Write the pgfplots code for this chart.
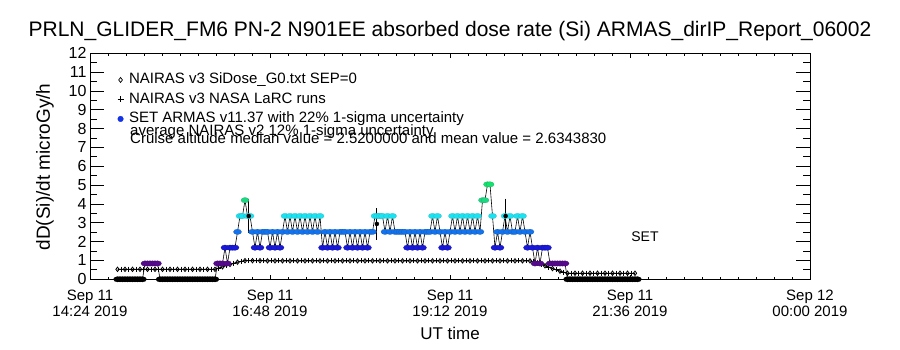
\documentclass[border=0pt]{standalone}
\usepackage{pgfplots}
\usepackage{pgfplotstable}
\pgfplotsset{compat=1.18}
\usepackage{fontspec}
\setmainfont{Liberation Sans}

\definecolor{legblue}{RGB}{20,50,230}
\pgfplotsset{colormap={armas}{rgb255=(0,0,0) rgb255=(85,10,140) rgb255=(25,25,215) rgb255=(20,115,235) rgb255=(30,225,240) rgb255=(30,215,130) rgb255=(20,225,110)}}

% wide elliptical blob mark, as drawn by the original plotting software
\pgfdeclareplotmark{hblob}{%
  \pgfpathellipse{\pgfpointorigin}{\pgfqpoint{1.5\pgfplotmarksize}{0pt}}{\pgfqpoint{0pt}{\pgfplotmarksize}}%
  \pgfusepathqfillstroke}

% ARMAS dose rate, t in minutes after 00:00 UT Sep 11
\pgfplotstableread[row sep=\\]{
t v\\
886 0\\888 0\\890 0\\892 0\\894 0\\896 0\\898 0\\900 0\\902 0\\904 0\\906 0\\
908 0.84\\910 0.84\\912 0.84\\914 0.84\\916 0.84\\918 0.84\\
920 0\\922 0\\924 0\\926 0\\928 0\\930 0\\932 0\\934 0\\936 0\\938 0\\940 0\\942 0\\944 0\\946 0\\948 0\\950 0\\952 0\\954 0\\956 0\\958 0\\960 0\\962 0\\964 0\\
966 0.84\\968 0.84\\970 0.84\\
972 1.68\\974 0.84\\976 1.68\\978 1.68\\980 1.68\\
982 2.52\\984 3.36\\986 3.36\\988 4.2\\990 3.36\\992 3.36\\
994 2.52\\996 1.68\\998 2.52\\1000 1.68\\1002 2.52\\1004 2.52\\1006 2.52\\
1008 1.68\\1010 2.52\\1012 1.68\\1014 2.52\\1016 1.68\\1018 2.52\\
1020 3.36\\1022 2.52\\1024 3.36\\1026 2.52\\1028 3.36\\1030 2.52\\1032 3.36\\1034 2.52\\1036 3.36\\1038 2.52\\1040 3.36\\1042 2.52\\1044 3.36\\1046 2.52\\1048 3.36\\
1050 1.68\\1052 2.52\\1054 1.68\\1056 2.52\\1058 1.68\\1060 2.52\\1062 1.68\\1064 2.52\\
1066 2.52\\1068 2.52\\1070 1.68\\1072 2.52\\
1074 1.68\\1076 2.52\\1078 1.68\\1080 2.52\\1082 1.68\\1084 2.52\\1086 1.68\\1088 2.52\\
1090 2.52\\1092 3.36\\1094 3.36\\1096 3.36\\1098 3.36\\1100 2.52\\1102 3.36\\1104 2.52\\1106 3.36\\1108 2.52\\
1110 2.52\\1112 2.52\\1114 2.52\\1116 2.52\\
1118 1.68\\1120 2.52\\1122 1.68\\1124 2.52\\1126 1.68\\1128 2.52\\1130 1.68\\1132 2.52\\
1134 2.52\\1136 2.52\\
1138 3.36\\1140 2.52\\1142 3.36\\
1144 2.52\\1146 1.68\\1148 2.52\\1150 1.68\\1152 2.52\\
1154 3.36\\1156 2.52\\1158 3.36\\1160 2.52\\1162 3.36\\1164 2.52\\1166 3.36\\1168 2.52\\1170 3.36\\
1172 2.52\\1174 3.36\\1176 2.52\\1178 4.2\\1180 4.2\\1182 5.04\\1184 5.04\\1186 3.36\\
1188 1.68\\1190 2.52\\1192 1.68\\
1194 2.52\\1196 3.36\\1198 2.52\\1200 3.36\\1202 2.52\\1204 2.52\\1206 3.36\\1208 2.52\\1210 3.36\\1212 2.52\\
1214 1.68\\1216 2.52\\
1218 1.68\\1220 0.84\\1222 1.68\\1224 0.84\\1226 1.68\\1228 1.68\\1230 1.68\\
1232 0.84\\1234 0.84\\1236 0.84\\1238 0.84\\1240 0.84\\1242 0.84\\1244 0.84\\
1246 0\\1248 0\\1250 0\\1252 0\\1254 0\\1256 0\\1258 0\\1260 0\\1262 0\\1264 0\\1266 0\\1268 0\\1270 0\\1272 0\\1274 0\\1276 0\\1278 0\\1280 0\\1282 0\\1284 0\\1286 0\\1288 0\\1290 0\\1292 0\\1294 0\\1296 0\\1298 0\\1300 0\\1302 0\\
}\armas

% NAIRAS v3 SiDose_G0 (diamonds)
\pgfplotstableread[row sep=\\]{
t v\\
886 0.53\\892 0.53\\898 0.53\\904 0.53\\910 0.53\\916 0.53\\922 0.53\\928 0.53\\934 0.53\\940 0.53\\946 0.53\\952 0.53\\958 0.53\\964 0.53\\
970 0.66\\976 0.79\\982 0.91\\988 0.99\\994 0.99\\1000 0.99\\
1006 0.98\\1012 0.98\\1018 0.98\\1024 0.98\\1030 0.98\\1036 0.98\\1042 0.98\\1048 0.98\\1054 0.98\\1060 0.98\\1066 0.98\\1072 0.98\\1078 0.98\\1084 0.98\\1090 0.98\\1096 0.98\\1102 0.98\\1108 0.98\\1114 0.98\\1120 0.98\\1126 0.98\\1132 0.98\\1138 0.98\\1144 0.98\\1150 0.98\\1156 0.98\\1162 0.98\\1168 0.98\\1174 0.98\\1180 0.98\\1186 0.98\\1192 0.98\\1198 0.98\\1204 0.98\\1210 0.98\\1216 0.98\\
1222 0.87\\1228 0.72\\1234 0.57\\1240 0.43\\1246 0.32\\
1252 0.32\\1258 0.32\\1264 0.32\\1270 0.32\\1276 0.32\\1282 0.32\\1288 0.32\\1294 0.32\\1300 0.32\\
}\sidose

% NAIRAS v3 NASA LaRC runs (plus)
\pgfplotstableread[row sep=\\]{
t v\\
889 0.53\\895 0.53\\901 0.53\\907 0.53\\913 0.53\\919 0.53\\925 0.53\\931 0.53\\937 0.53\\943 0.53\\949 0.53\\955 0.53\\961 0.53\\
967 0.59\\973 0.72\\979 0.85\\985 0.96\\991 0.99\\997 0.99\\
1003 0.98\\1009 0.98\\1015 0.98\\1021 0.98\\1027 0.98\\1033 0.98\\1039 0.98\\1045 0.98\\1051 0.98\\1057 0.98\\1063 0.98\\1069 0.98\\1075 0.98\\1081 0.98\\1087 0.98\\1093 0.98\\1099 0.98\\1105 0.98\\1111 0.98\\1117 0.98\\1123 0.98\\1129 0.98\\1135 0.98\\1141 0.98\\1147 0.98\\1153 0.98\\1159 0.98\\1165 0.98\\1171 0.98\\1177 0.98\\1183 0.98\\1189 0.98\\1195 0.98\\1201 0.98\\1207 0.98\\1213 0.98\\
1219 0.94\\1225 0.79\\1231 0.65\\1237 0.50\\1243 0.37\\
1249 0.32\\1255 0.32\\1261 0.32\\1267 0.32\\1273 0.32\\1279 0.32\\1285 0.32\\1291 0.32\\1297 0.32\\
}\larc

\pgfplotstableread[row sep=\\]{
t v e\\
991 3.36 0.74\\
1093.5 2.94 0.65\\
1196.5 3.36 0.74\\
}\armaserr

\pgfplotsset{idlbox/.style={
  scale only axis, width=720pt, height=226pt,
  at={(90pt,70.7pt)}, anchor=south west,
  xmin=864, xmax=1440, ymin=0, ymax=12,
  tick align=inside,
  axis line style={line width=0.8pt, black},
  tick style={black, line width=0.8pt},
}}

\begin{document}
\begin{tikzpicture}
\useasboundingbox (0,0) rectangle (900pt,350pt);

% main axis: data, y ticks (long), legend, title
\begin{axis}[idlbox,
  xmajorticks=false, xminorticks=false,
  ytick={0,1,...,12}, minor y tick num=1,
  major tick length=14.4pt, minor tick length=7.2pt,
  /pgf/number format/assume math mode=true,
  yticklabel style={font=\fontsize{16}{16}\selectfont},
  ylabel={dD(Si)/dt microGy/h},
  ylabel style={at={(axis description cs:-0.0625,0.497)}, anchor=center, font=\fontsize{19}{22}\selectfont},
  title={PRLN\_GLIDER\_FM6 PN-2 N901EE absorbed dose rate (Si) ARMAS\_dirIP\_Report\_06002},
  title style={at={(axis description cs:0.5,1.072)}, anchor=center, font=\fontsize{21}{24}\selectfont},
  colormap name=armas, point meta min=0, point meta max=5.04,
  legend style={draw=none, fill=none, inner sep=0pt, at={(axis description cs:0.038,0.9217)}, anchor=north west,
    font=\fontsize{15}{18}\selectfont, row sep=2pt, column sep=4pt,
    nodes={inner sep=1.5pt, text height=11pt, text depth=3.5pt}},
  legend cell align=left,
]
\addlegendimage{only marks, mark=diamond, mark size=2.5pt, black, line width=0.7pt}
\addlegendentry{NAIRAS v3 SiDose\_G0.txt SEP=0}
\addlegendimage{only marks, mark=+, mark size=3pt, black, line width=0.9pt}
\addlegendentry{NAIRAS v3 NASA LaRC runs}
\addlegendimage{only marks, mark=*, mark size=2.8pt, legblue}
\addlegendentry{SET ARMAS v11.37 with 22\% 1-sigma uncertainty}

\addplot[forget plot, black, line width=1pt, mark=diamond, mark size=2.2pt, mark options={line width=0.8pt}] table[x=t, y=v] {\sidose};
\addplot[forget plot, black, only marks, mark=+, mark size=2.6pt, mark options={line width=1pt}] table[x=t, y=v] {\larc};
\addplot[forget plot, black, line width=0.6pt, scatter, scatter src=explicit, mark=hblob, mark size=2.7pt, mark options={line width=0.2pt}]
  table[x=t, y=v, meta=v] {\armas};
\addplot[forget plot, black, only marks, mark=none, error bars/.cd, y dir=both, y explicit,
  error bar style={line width=0.8pt, black},
  error mark options={black, mark size=3.5pt, line width=0.8pt}] table[x=t, y=v, y error=e] {\armaserr};

\node[anchor=base west, inner sep=0pt, font=\fontsize{15}{18}\selectfont] at (axis description cs:0.0556,0.636) {average NAIRAS v2 12\% 1-sigma uncertainty};
\node[anchor=base west, inner sep=0pt, font=\fontsize{15}{18}\selectfont] at (axis description cs:0.0556,0.600) {Cruise altitude median value = 2.5200000 and mean value = 2.6343830};
\node[font=\fontsize{14}{16}\selectfont] at (axis cs:1308,2.25) {SET};
\end{axis}

% overlay axis: x ticks (short) and x labels
\begin{axis}[idlbox,
  ymajorticks=false, yminorticks=false,
  xtick={864,1008,1152,1296,1440}, minor x tick num=9,
  major tick length=4.5pt, minor tick length=2.25pt,
  xticklabels={{Sep 11\\14:24 2019},{Sep 11\\16:48 2019},{Sep 11\\19:12 2019},{Sep 11\\21:36 2019},{Sep 12\\00:00 2019}},
  xticklabel style={align=center, font=\fontsize{15}{16}\selectfont, yshift=-7pt},
  xlabel={UT time},
  xlabel style={at={(axis description cs:0.5,-0.2376)}, anchor=center, font=\fontsize{17}{20}\selectfont},
]
\end{axis}
\end{tikzpicture}
\end{document}
